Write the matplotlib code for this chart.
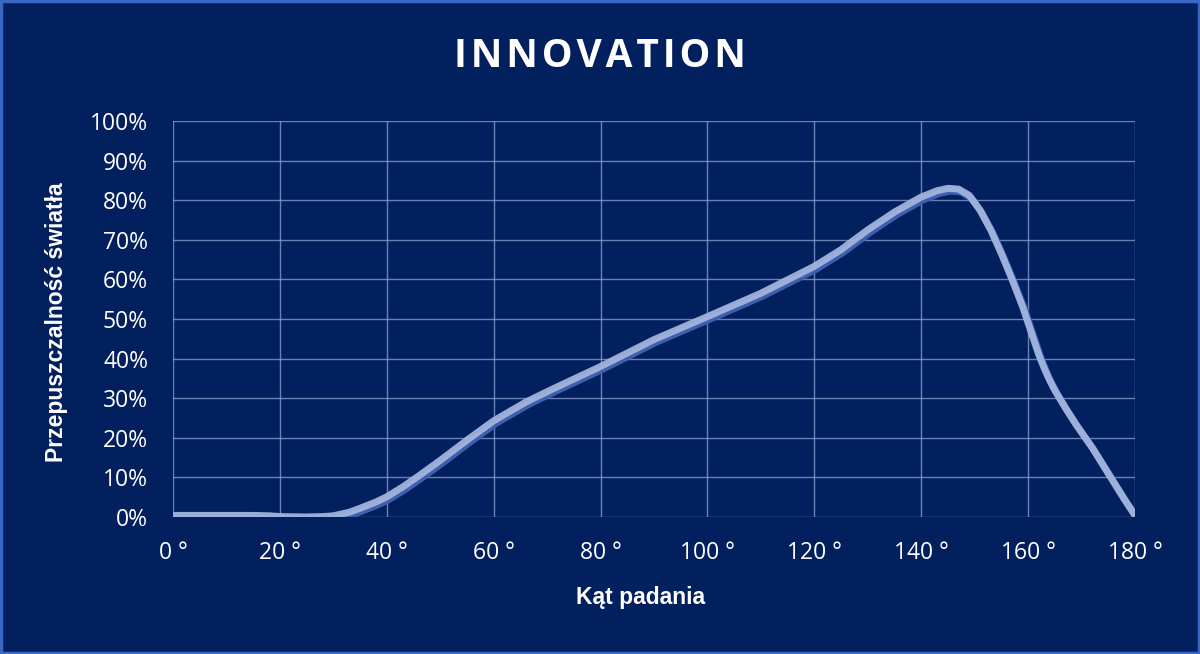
import matplotlib.pyplot as plt
import matplotlib.transforms as mtransforms
from matplotlib.ticker import FuncFormatter, MultipleLocator

# kat padania [deg] vs przepuszczalnosc [%]
angles = [0, 5, 10, 15, 18, 20, 25, 28, 30, 33, 35, 38, 40, 43, 46, 50, 55, 60, 66, 71,
          80, 90, 100, 110, 120, 125, 130, 135, 140, 143, 145, 147, 149, 151, 153, 155,
          157, 159, 161, 162, 163, 164, 165, 167, 169, 172, 175, 178, 180]
transmission = [0.4, 0.4, 0.4, 0.4, 0.3, 0.1, 0.0, 0.1, 0.3, 1.2, 2.2, 3.8, 5.1, 7.6, 10.4, 14.3, 19.4, 24.3, 29.0, 32.3,
                38.0, 44.8, 50.6, 56.5, 63.3, 67.5, 72.5, 77.0, 80.8, 82.4, 83.0, 82.8, 81.2, 77.5, 72.5, 66.5,
                60.0, 53.0, 45.0, 41.0, 37.6, 34.6, 32.0, 27.5, 23.3, 17.5, 11.0, 4.5, 0.4]

title = "INNOVATION"
xlab = "Kąt padania"
ylab = "Przepuszczalność światła"

bg = "#021f5e"
fig = plt.figure(figsize=(12, 6.54), dpi=100, facecolor=bg)
ax = fig.add_axes([0.1442, 0.2095, 0.8016, 0.6055])
ax.set_facecolor(bg)

# shadow line slightly below/right, then the light line on top
shadow = mtransforms.offset_copy(ax.transData, fig=fig, x=1.5, y=-2.0, units="points")
ax.plot(angles, transmission, color="#3d5fae", lw=5, transform=shadow,
        solid_capstyle="round", solid_joinstyle="round", zorder=3)
ax.plot(angles, transmission, color="#a6b8e0", lw=5, alpha=0.92,
        solid_capstyle="round", solid_joinstyle="round", zorder=4)

ax.set_xlim(0, 180)
ax.set_ylim(0, 100)
ax.xaxis.set_major_locator(MultipleLocator(20))
ax.yaxis.set_major_locator(MultipleLocator(10))
ax.xaxis.set_major_formatter(FuncFormatter(lambda v, p: "%d °" % v))
ax.yaxis.set_major_formatter(FuncFormatter(lambda v, p: "%d%%" % v))
ax.grid(True, color="#8fa3d4", lw=1.0, alpha=0.75, zorder=1)
ax.set_axisbelow(True)
for s in ax.spines.values():
    s.set_visible(False)
ax.tick_params(length=0, colors="white", labelsize=16.5)
ax.tick_params(axis="y", pad=18)
ax.tick_params(axis="x", pad=17)
for lab in ax.get_xticklabels() + ax.get_yticklabels():
    lab.set_family("Open Sans")

spaced = "\u200a".join(title)
fig.text(0.5, 0.913, spaced, ha="center", va="center", color="white", fontsize=28,
         fontweight="bold", family=["Open Sans", "DejaVu Sans"])
fig.text(0.534, 0.087, xlab, ha="center", va="center", color="white", fontsize=16.5,
         fontweight="bold", family="Liberation Sans")
fig.text(0.047, 0.508, ylab, ha="center", va="center", rotation=90, color="white", fontsize=16.5,
         fontweight="bold", family="Liberation Sans")

# light blue frame around the whole picture
fig.patches.append(plt.Rectangle((0.001, 0.002), 0.998, 0.996, transform=fig.transFigure,
                                 fill=False, edgecolor="#3a66c4", lw=2.5))

fig.savefig("out.png", dpi=100, facecolor=bg)
